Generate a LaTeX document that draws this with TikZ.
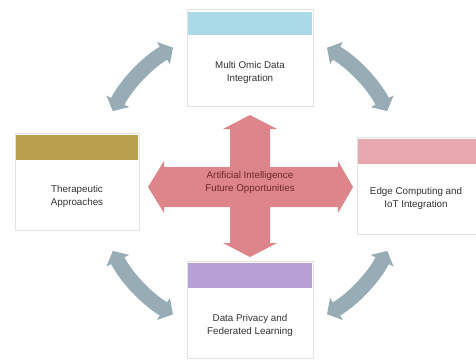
\documentclass[tikz,border=0pt]{standalone}
\usepackage{fontspec}
\setmainfont{Liberation Sans}
\usetikzlibrary{arrows.meta}
\definecolor{hdrblue}{RGB}{170,218,232}
\definecolor{hdrgold}{RGB}{184,160,78}
\definecolor{hdrpink}{RGB}{232,168,174}
\definecolor{hdrpurple}{RGB}{182,160,214}
\definecolor{crossred}{RGB}{221,133,138}
\definecolor{crosstext}{RGB}{110,40,42}
\definecolor{cycgray}{RGB}{152,172,182}
\definecolor{boxline}{RGB}{226,226,226}
\definecolor{txtgray}{RGB}{50,50,50}
\tikzset{
  panel/.style={draw=boxline, fill=white, line width=0.8pt, minimum width=126pt, minimum height=97pt, inner sep=0pt},
  label/.style={align=center, text=txtgray, font=\fontsize{9.8}{13}\selectfont, inner sep=0pt},
  cyc/.style={draw=cycgray, line width=15pt, {Triangle[width=25pt,length=11pt]}-{Triangle[width=25pt,length=11pt]}},
}
\begin{document}
\begin{tikzpicture}[x=1pt,y=-1pt]
\useasboundingbox (0,0) rectangle (476,360);
% panels
\node[panel] (top) at (250,58) {};
\node[panel, minimum width=124pt] (left) at (77,182) {};
\node[panel, minimum width=128pt] (right) at (421,186) {};
\node[panel] (bottom) at (250,310) {};
% headers
\fill[hdrblue] ([xshift=1pt,yshift=-3pt]top.north west) rectangle ([xshift=-1pt,yshift=-26pt]top.north east);
\fill[hdrgold] ([xshift=1pt,yshift=-2pt]left.north west) rectangle ([xshift=-1pt,yshift=-27pt]left.north east);
\fill[hdrpink] ([xshift=1pt,yshift=-2pt]right.north west) rectangle ([xshift=-1pt,yshift=-27pt]right.north east);
\fill[hdrpurple] ([xshift=1pt,yshift=-2pt]bottom.north west) rectangle ([xshift=-1pt,yshift=-27pt]bottom.north east);
% labels
\node[label] (toptxt) at (250,72) {Multi Omic Data\\Integration};
\node[label] (lefttxt) at (77,196) {Therapeutic\\Approaches};
\node[label] (righttxt) at (416,198) {Edge Computing and\\IoT Integration};
\node[label] (bottomtxt) at (250,325) {Data Privacy and\\Federated Learning};
% cross
\fill[crossred] (250,115) -- (277,129) -- (270,129) -- (270,167) -- (338,167) -- (338,161)
  -- (353,187) -- (338,213) -- (338,207) -- (270,207) -- (270,243) -- (277,243)
  -- (250,257) -- (223,243) -- (230,243) -- (230,207) -- (164,207) -- (164,213)
  -- (148,187) -- (164,161) -- (164,167) -- (230,167) -- (230,129) -- (223,129) -- cycle;
\node[label, text=crosstext] (ai) at (250,182) {Artificial Intelligence\\Future Opportunities};
% cycle arrows
\coordinate (c) at (250,181);
\draw[cyc] ([shift={(-153:154)}]c) arc[start angle=-153, end angle=-120, radius=154];
\draw[cyc] ([shift={(-60:154)}]c) arc[start angle=-60, end angle=-27, radius=154];
\draw[cyc] ([shift={(27:154)}]c) arc[start angle=27, end angle=60, radius=154];
\draw[cyc] ([shift={(120:154)}]c) arc[start angle=120, end angle=153, radius=154];
\end{tikzpicture}
\end{document}
